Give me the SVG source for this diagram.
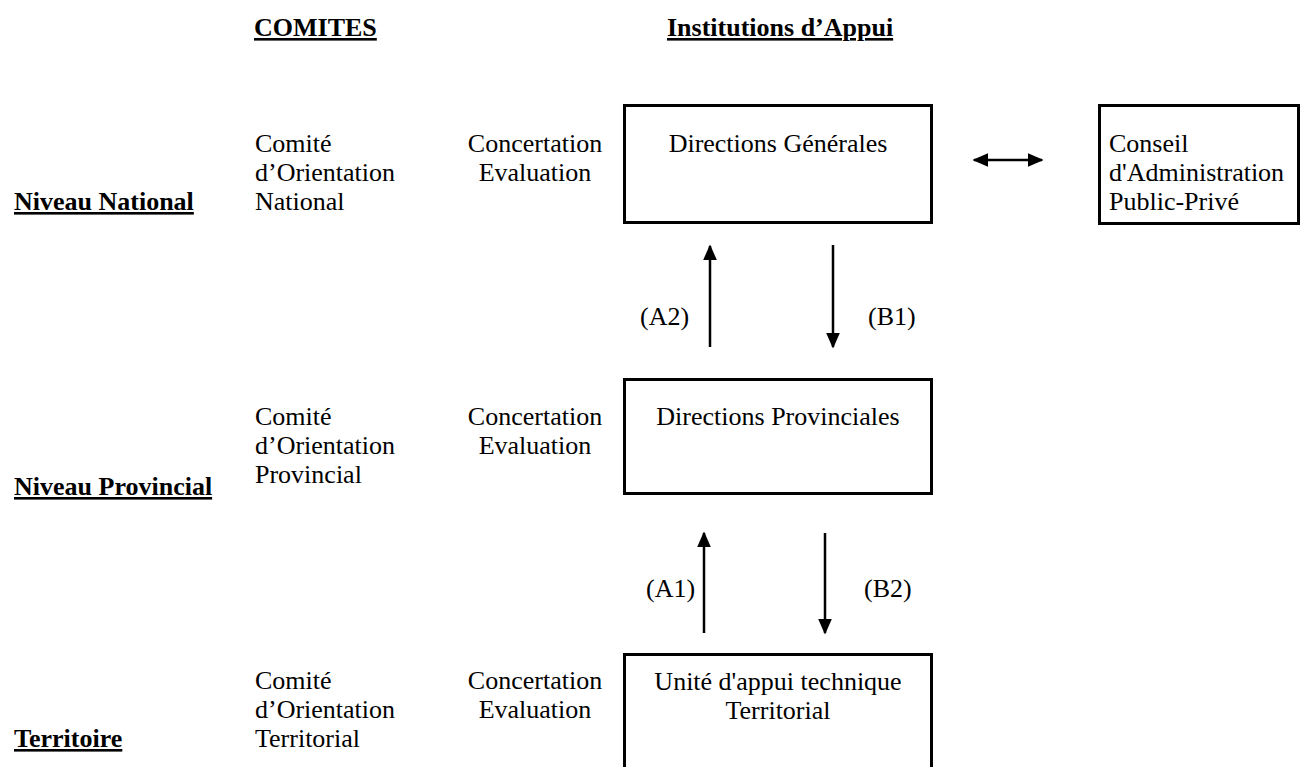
<svg xmlns="http://www.w3.org/2000/svg" width="1302" height="767" viewBox="0 0 1302 767">
<style>
text{font-family:"Liberation Serif","Times New Roman",serif;font-size:26px;fill:#000}
.b{font-weight:bold;text-decoration:underline;text-decoration-thickness:3px}
.c{text-anchor:middle}
.box{fill:#fff;stroke:#000;stroke-width:3}
.ln{stroke:#000;stroke-width:2.5;fill:none}
</style>
<defs>
<marker id="ah" viewBox="0 0 10 10" refX="9" refY="5" markerWidth="16" markerHeight="14" markerUnits="userSpaceOnUse" orient="auto-start-reverse" preserveAspectRatio="none">
<path d="M0,0 L10,5 L0,10 Z" fill="#000"/>
</marker>
</defs>
<g id="headers">
<text class="b" x="254" y="36">COMITES</text>
<text class="b" x="667" y="36">Institutions d’Appui</text>
</g>
<g id="levels">
<text class="b" x="14" y="210">Niveau National</text>
<text class="b" x="14" y="495">Niveau Provincial</text>
<text class="b" x="14" y="747">Territoire</text>
</g>
<g id="comites">
<text x="255" y="152">Comité</text>
<text x="255" y="181">d’Orientation</text>
<text x="255" y="210">National</text>
<text x="255" y="425">Comité</text>
<text x="255" y="454">d’Orientation</text>
<text x="255" y="483">Provincial</text>
<text x="255" y="689">Comité</text>
<text x="255" y="718">d’Orientation</text>
<text x="255" y="747">Territorial</text>
</g>
<g id="concertation">
<text class="c" x="535" y="152">Concertation</text>
<text class="c" x="535" y="181">Evaluation</text>
<text class="c" x="535" y="425">Concertation</text>
<text class="c" x="535" y="454">Evaluation</text>
<text class="c" x="535" y="689">Concertation</text>
<text class="c" x="535" y="718">Evaluation</text>
</g>
<g id="n-dg">
<rect class="box" x="624.5" y="105.5" width="307" height="117"/>
<text class="c" x="778" y="152">Directions Générales</text>
</g>
<g id="n-ca">
<rect class="box" x="1099.5" y="105.5" width="199" height="118"/>
<text x="1109" y="152">Conseil</text>
<text x="1109" y="181">d'Administration</text>
<text x="1109" y="210">Public-Privé</text>
</g>
<g id="n-dp">
<rect class="box" x="624.5" y="379.5" width="307" height="114"/>
<text class="c" x="778" y="425">Directions Provinciales</text>
</g>
<g id="n-ut">
<rect class="box" x="624.5" y="654.5" width="307" height="120"/>
<text class="c" x="778" y="690">Unité d'appui technique</text>
<text class="c" x="778" y="719">Territorial</text>
</g>
<g id="connectors">
<line class="ln" x1="974" y1="160" x2="1042" y2="160" marker-start="url(#ah)" marker-end="url(#ah)"/>
<line class="ln" x1="710" y1="347" x2="710" y2="246" marker-end="url(#ah)"/>
<line class="ln" x1="833" y1="245" x2="833" y2="347" marker-end="url(#ah)"/>
<line class="ln" x1="704" y1="633" x2="704" y2="533" marker-end="url(#ah)"/>
<line class="ln" x1="825" y1="533" x2="825" y2="633" marker-end="url(#ah)"/>
</g>
<g id="labels">
<text x="640" y="325">(A2)</text>
<text x="868" y="325">(B1)</text>
<text x="646" y="597">(A1)</text>
<text x="864" y="597">(B2)</text>
</g>
</svg>
